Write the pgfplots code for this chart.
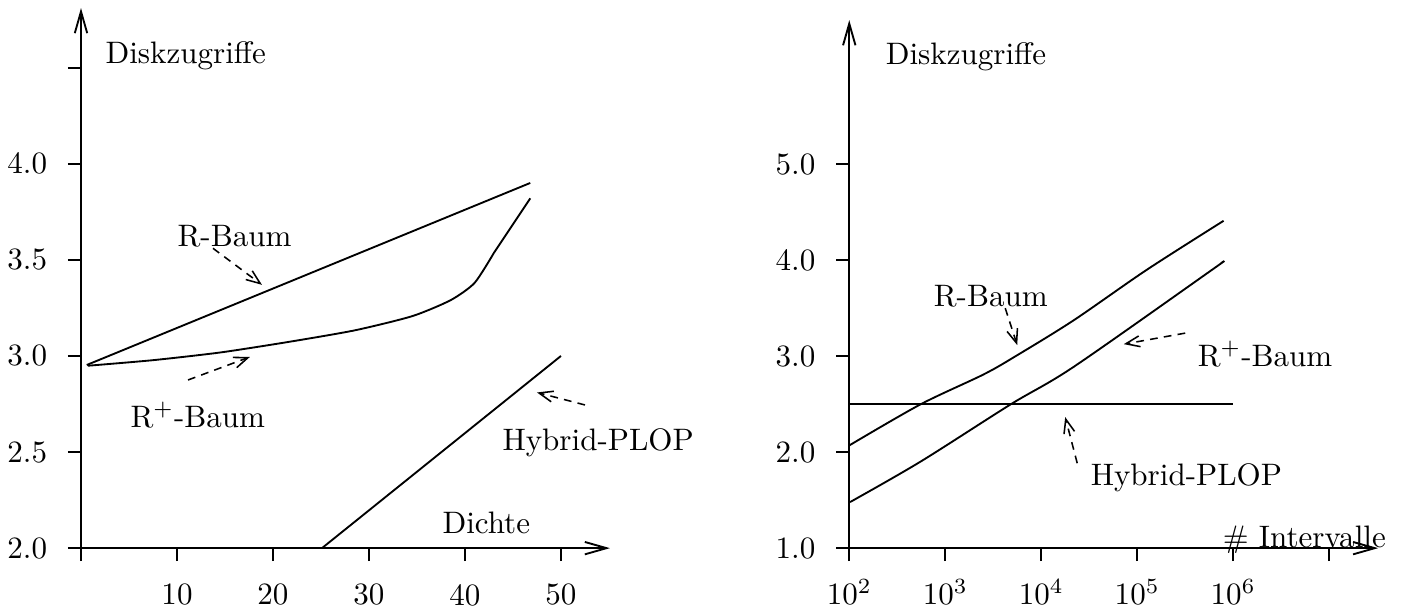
\documentclass[border=0pt]{standalone}
\usepackage{pgfplots}
\pgfplotsset{compat=1.18}
\usetikzlibrary{arrows.meta}

% left panel data (Dichte vs. Diskzugriffe)
\pgfplotstableread{
x y
0.6 2.953
46.8 3.90
}\rbaumL
\pgfplotstableread{
x y
0.7 2.949
7.5 2.978
14.5 3.018
21.5 3.072
28.5 3.133
34.5 3.207
38.5 3.29
41.0 3.38
43.0 3.535
}\rplusL
\pgfplotstableread{
x y
43.0 3.535
46.8 3.82
}\rplusLtop
\pgfplotstableread{
x y
25.1 2.0
50.0 3.0
}\hybridL

% right panel data (# Intervalle vs. Diskzugriffe)
\pgfplotstableread{
x y
100 2.07
550 2.497
2512 2.81
5623 3.01
21878 3.375
125893 3.90
794328 4.41
}\rbaumR
\pgfplotstableread{
x y
102 1.48
550 1.90
4786 2.497
21878 2.89
602560 3.90
750000 3.97
}\rplusR
\pgfplotstableread{
x y
100 2.5
1000000 2.5
}\hybridR

\pgfplotsset{
  panel/.style={
    scale only axis, clip=false,
    axis lines=left,
    axis line style={line width=0.6pt, -{Straight Barb[length=7pt,width=4pt]}},
    tick style={line width=0.6pt, black},
    major tick length=4.2pt, tick align=outside,
    yticklabel style={xshift=-3.2pt},
  },
  curve/.style={black, line width=0.6pt, no marks},
}
\tikzset{ann/.style={black, line width=0.5pt, dash pattern=on 2.5pt off 2pt,
  -{Straight Barb[length=4.5pt,width=3.5pt]}}}

\begin{document}
\begin{tikzpicture}
\useasboundingbox (-26.1pt,-20.3pt) rectangle (425.9pt,176.6pt);

\begin{axis}[panel,
  at={(0pt,0pt)}, anchor=south west,
  width=170.4pt, height=174.0pt,
  xmin=0, xmax=55.1, ymin=2, ymax=4.81,
  xticklabel style={yshift=-3.9pt},
  xtick={0,10,20,30,40,50}, xticklabels={,10,20,30,40,50},
  ytick={2,2.5,3,3.5,4,4.5}, yticklabels={2.0,2.5,3.0,3.5,4.0,},
]
\addplot[curve] table {\rbaumL};
\addplot[curve, smooth, tension=0.4] table {\rplusL};
\addplot[curve] table {\rplusLtop};
\addplot[curve] table {\hybridL};
\node[anchor=base west, inner sep=0] at (axis cs:2.5,4.521) {Diskzugriffe};
\node[anchor=base west, inner sep=0] at (axis cs:10.0,3.568) {R-Baum};
\node[anchor=base west, inner sep=0] at (axis cs:5.1,2.630) {R$^+$-Baum};
\node[anchor=base west, inner sep=0] at (axis cs:43.85,2.51) {Hybrid-PLOP};
\node[anchor=base west, inner sep=0] at (axis cs:37.6,2.078) {Dichte};
\draw[ann] (axis cs:13.75,3.56) -- (axis cs:18.85,3.37);
\draw[ann] (axis cs:11.15,2.875) -- (axis cs:17.6,2.995);
\draw[ann] (axis cs:52.5,2.745) -- (axis cs:47.5,2.81);
\end{axis}

\begin{axis}[panel,
  at={(247.5pt,0pt)}, anchor=south west,
  width=170.4pt, height=170.1pt,
  xmode=log, xmin=100, xmax=3.24e7, ymin=1, ymax=6.5,
  xminorticks=false,
  xticklabel style={yshift=-2.3pt},
  xtick={1e2,1e3,1e4,1e5,1e6,1e7},
  xticklabels={$10^2$,$10^3$,$10^4$,$10^5$,$10^6$,},
  ytick={1,2,3,4,5}, yticklabels={1.0,2.0,3.0,4.0,5.0},
]
\addplot[curve, smooth, tension=0.5] table {\rbaumR};
\addplot[curve, smooth, tension=0.5] table {\rplusR};
\addplot[curve] table {\hybridR};
\node[anchor=base west, inner sep=0] at (axis cs:237,6.04) {Diskzugriffe};
\node[anchor=base west, inner sep=0] at (axis cs:750,3.52) {R-Baum};
\node[anchor=base west, inner sep=0] at (axis cs:421697,2.896) {R$^+$-Baum};
\node[anchor=base west, inner sep=0] at (axis cs:32359,1.656) {Hybrid-PLOP};
\node[anchor=base west, inner sep=0] at (axis cs:767361,1.01) {\# Intervalle};
\draw[ann] (axis cs:4217,3.5) -- (axis cs:5623,3.115);
\draw[ann] (axis cs:316228,3.24) -- (axis cs:72444,3.125);
\draw[ann] (axis cs:23714,1.885) -- (axis cs:17783,2.365);
\end{axis}
\end{tikzpicture}
\end{document}
